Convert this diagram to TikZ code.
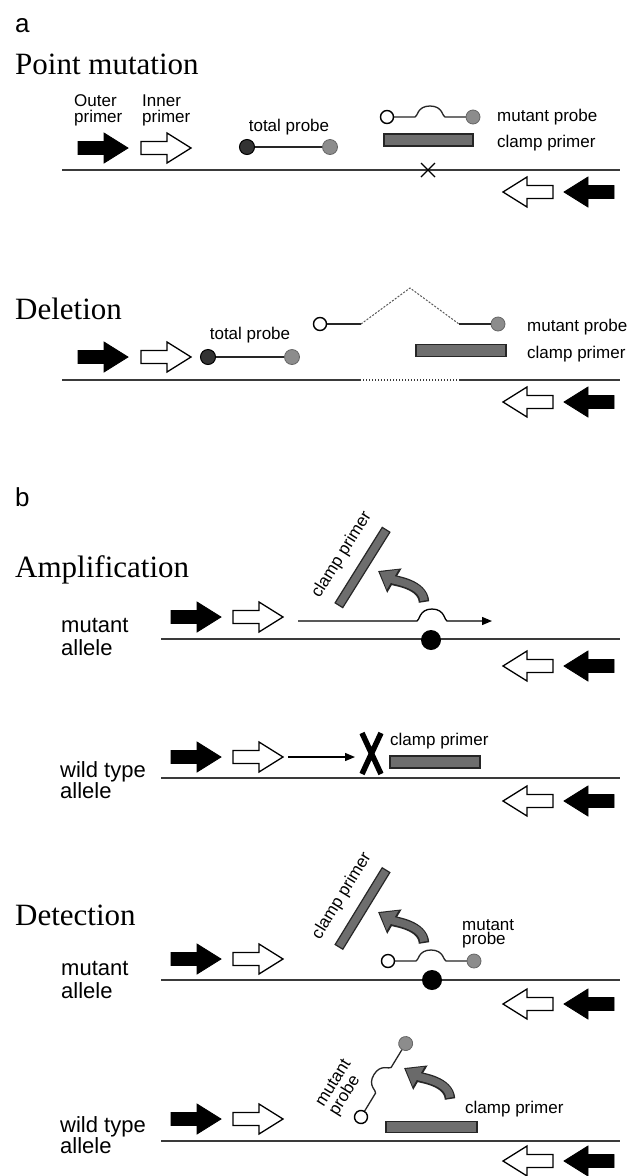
\documentclass[tikz,border=0pt]{standalone}
\usepackage{fontspec}
\setmainfont{Liberation Serif}
\setsansfont{Liberation Sans}
\usetikzlibrary{arrows.meta}

\definecolor{strandgray}{HTML}{3A3A3A}
\definecolor{clampfill}{HTML}{6E6E6E}
\definecolor{dyefill}{HTML}{8C8C8C}
\definecolor{quenchfill}{HTML}{333333}
\definecolor{turnfill}{HTML}{6A6A6A}

\tikzset{
  strand/.style={draw=strandgray, line width=2pt},
  gapstrand/.style={draw=strandgray, line width=1.6pt, dash pattern=on 1.3pt off 1.7pt},
  title/.style={font=\fontsize{31}{31}\selectfont, anchor=base west, inner sep=0},
  panel/.style={font=\sffamily\fontsize{26}{26}\selectfont, anchor=base west, inner sep=0},
  lbl/.style={font=\sffamily\fontsize{17}{16}\selectfont, inner sep=0},
  allele/.style={font=\sffamily\fontsize{22}{22}\selectfont, inner sep=0, anchor=base west},
  clamp/.style={draw=black!85, fill=clampfill, line width=1.2pt, inner sep=0},
  quencher/.style={circle, draw=black, fill=quenchfill, minimum size=15pt, inner sep=0, line width=1pt},
  dye/.style={circle, draw=black!60, fill=dyefill, minimum size=15pt, inner sep=0, line width=0.8pt},
  openend/.style={circle, draw=black, fill=white, minimum size=13pt, inner sep=0, line width=1.4pt},
  mutdot/.style={circle, fill=black, minimum size=20pt, inner sep=0},
  probeline/.style={draw=black!85, line width=1.3pt},
  loopline/.style={draw=black!65, line width=1pt, dash pattern=on 2pt off 1.5pt},
  extarrow/.style={draw=black, line width=1.3pt, -{Triangle[length=10pt,width=8pt]}},
  pointmark/.style={draw=black, line width=1.3pt},
  blockmark/.style={draw=black, line width=5.5pt},
  outerprimer/.style={fill=black, draw=black, line width=0.8pt, line join=miter},
  innerprimer/.style={fill=white, draw=black, line width=1.3pt, line join=miter},
  blockarrow/.pic={
    \path[pic actions] (0,-6.5) -- (26,-6.5) -- (26,-15) -- (50,0) -- (26,15)
      -- (26,6.5) -- (0,6.5) -- cycle;
  },
  mprobe/.pic={
    \draw[probeline] (6.5,0) -- (28,0) .. controls (30.5,0) and (30,-11) .. (43,-11)
      .. controls (56,-11) and (55.5,0) .. (58,0) -- (79.5,0);
    \draw[draw=black, fill=white, line width=1.4pt] (0,0) circle (6.5pt);
    \draw[draw=black!60, fill=dyefill, line width=0.8pt] (86,0) circle (7pt);
  },
  turnarrow/.pic={
    \draw[line width=10.5pt, draw=black!85, -{Triangle[length=19pt,width=27pt,fill=black!85]}]
      (0,0) .. controls (-1,-18) and (-29,-21) .. (-46,-31);
    \draw[line width=7.5pt, draw=turnfill, shorten >=2pt, -{Triangle[length=15pt,width=22pt,fill=turnfill]}]
      (-0.1,-1.5) .. controls (-1,-18) and (-29,-21) .. (-46,-31);
  }
}

\begin{document}
\begin{tikzpicture}[x=1pt, y=-1pt]
\useasboundingbox (0,0) rectangle (640,1176);
\fill[white] (0,0) rectangle (640,1176);

% ---------------- panel a: point mutation ----------------
\node[panel] (pa) at (15,32) {a};
\node[title] (tPoint) at (15,74) {Point mutation};
\node[lbl, anchor=base west] (outerA) at (74,106) {Outer};
\node[lbl, anchor=base west] (outerB) at (74,122) {primer};
\node[lbl, anchor=base west] (innerA) at (142,106) {Inner};
\node[lbl, anchor=base west] (innerB) at (142,122) {primer};
\pic[outerprimer] at (78,148) {blockarrow};
\pic[innerprimer] at (141,148) {blockarrow};
\node[quencher] (tq1) at (247,147) {};
\node[dye] (td1) at (330,147) {};
\draw[probeline] (tq1) -- (td1);
\node[lbl, anchor=base] (tl1) at (289,131) {total probe};
\pic at (387,117) {mprobe};
\node[clamp, minimum width=89pt, minimum height=12pt] (cl1) at (428.5,140) {};
\node[lbl, anchor=base west] (mpl1) at (497,121) {mutant probe};
\node[lbl, anchor=base west] (cpl1) at (497,147) {clamp primer};
\coordinate (s1a) at (62,170);
\coordinate (s1b) at (620,170);
\draw[strand] (s1a) -- (s1b);
\draw[pointmark] (421,163) -- (435,177) (435,163) -- (421,177);
\pic[innerprimer, xscale=-1] at (553,192) {blockarrow};
\pic[outerprimer, xscale=-1] at (614,192) {blockarrow};

% ---------------- panel a: deletion ----------------
\node[title] (tDel) at (15,319) {Deletion};
\pic[outerprimer] at (78,357) {blockarrow};
\pic[innerprimer] at (141,357) {blockarrow};
\node[quencher] (tq2) at (208,357) {};
\node[dye] (td2) at (292,357) {};
\draw[probeline] (tq2) -- (td2);
\node[lbl, anchor=base] (tl2) at (250,339) {total probe};
\node[openend] (mq2) at (320,324) {};
\node[dye, minimum size=14pt] (md2) at (498,324) {};
\coordinate (lp1) at (361,324);
\coordinate (lpk) at (410,288);
\coordinate (lp2) at (459,324);
\draw[probeline] (mq2) -- (lp1);
\draw[loopline] (lp1) -- (lpk) -- (lp2);
\draw[probeline] (lp2) -- (md2);
\node[clamp, minimum width=90pt, minimum height=12pt] (cl2) at (461,350.5) {};
\node[lbl, anchor=base west] (mpl2) at (527,331) {mutant probe};
\node[lbl, anchor=base west] (cpl2) at (527,358) {clamp primer};
\coordinate (s2a) at (62,380);
\coordinate (s2b) at (361,380);
\coordinate (s2c) at (459,380);
\coordinate (s2d) at (620,380);
\draw[strand] (s2a) -- (s2b);
\draw[gapstrand] ([xshift=2pt]s2b) -- ([xshift=-2pt]s2c);
\draw[strand] (s2c) -- (s2d);
\pic[innerprimer, xscale=-1] at (553,402) {blockarrow};
\pic[outerprimer, xscale=-1] at (614,402) {blockarrow};

% ---------------- panel b: amplification, mutant allele ----------------
\node[panel] (pb) at (15,506) {b};
\node[title] (tAmp) at (15,577) {Amplification};
\node[allele] (amA) at (61,632) {mutant};
\node[allele] (amB) at (61,655) {allele};
\pic[outerprimer] at (171,617) {blockarrow};
\pic[innerprimer] at (233,617) {blockarrow};
\coordinate (ext1a) at (298,621);
\coordinate (ext1b) at (492,621);
\draw[extarrow] (ext1a) -- (417,621) .. controls (419.5,621) and (419,609) .. (432,609)
  .. controls (445,609) and (444.5,621) .. (447,621) -- (ext1b);
\coordinate (s3a) at (161,639);
\coordinate (s3b) at (620,639);
\draw[strand] (s3a) -- (s3b);
\node[mutdot] (md3) at (431,640) {};
\node[clamp, minimum width=89pt, minimum height=9pt, rotate=58] (cl3) at (362.5,567.5) {};
\node[lbl, rotate=58] (cpl3) at (342,555) {clamp primer};
\pic at (424,602) {turnarrow};
\pic[innerprimer, xscale=-1] at (553,666) {blockarrow};
\pic[outerprimer, xscale=-1] at (614,666) {blockarrow};

% ---------------- panel b: amplification, wild type allele ----------------
\node[allele] (awA) at (60,777) {wild type};
\node[allele] (awB) at (60,798) {allele};
\pic[outerprimer] at (171,757) {blockarrow};
\pic[innerprimer] at (233,757) {blockarrow};
\coordinate (ext2a) at (288,757);
\coordinate (ext2b) at (355,757);
\draw[extarrow] (ext2a) -- (ext2b);
\draw[blockmark] (362,733) -- (381,774) (381,733) -- (362,774);
\node[lbl, anchor=base west] (cpl4) at (390,745) {clamp primer};
\node[clamp, minimum width=90pt, minimum height=12pt] (cl4) at (435,762) {};
\coordinate (s4a) at (161,778);
\coordinate (s4b) at (620,778);
\draw[strand] (s4a) -- (s4b);
\pic[innerprimer, xscale=-1] at (553,801) {blockarrow};
\pic[outerprimer, xscale=-1] at (614,801) {blockarrow};

% ---------------- panel b: detection, mutant allele ----------------
\node[title] (tDet) at (15,925) {Detection};
\node[clamp, minimum width=90pt, minimum height=9pt, rotate=58.5] (cl5) at (362.5,908.5) {};
\node[lbl, rotate=58.5] (cpl5) at (342,896) {clamp primer};
\pic at (424,943) {turnarrow};
\node[lbl, anchor=base west] (mpl5a) at (462,930) {mutant};
\node[lbl, anchor=base west] (mpl5b) at (462,944) {probe};
\pic at (388,961) {mprobe};
\coordinate (s5a) at (161,980);
\coordinate (s5b) at (620,980);
\draw[strand] (s5a) -- (s5b);
\node[mutdot] (md5) at (432,980) {};
\node[allele] (dmA) at (61,975) {mutant};
\node[allele] (dmB) at (61,998) {allele};
\pic[outerprimer] at (171,959) {blockarrow};
\pic[innerprimer] at (233,959) {blockarrow};
\pic[innerprimer, xscale=-1] at (553,1004) {blockarrow};
\pic[outerprimer, xscale=-1] at (614,1004) {blockarrow};

% ---------------- panel b: detection, wild type allele ----------------
\pic[rotate=58.7] at (361,1117) {mprobe};
\node[lbl, rotate=58, align=left] (mpl6) at (341,1088) {mutant\\probe};
\pic at (450,1099) {turnarrow};
\node[lbl, anchor=base west] (cpl6) at (465,1113) {clamp primer};
\node[clamp, minimum width=91pt, minimum height=11pt] (cl6) at (431.5,1127) {};
\node[allele] (dwA) at (60,1132) {wild type};
\node[allele] (dwB) at (60,1153) {allele};
\pic[outerprimer] at (171,1119) {blockarrow};
\pic[innerprimer] at (233,1119) {blockarrow};
\coordinate (s6a) at (161,1141);
\coordinate (s6b) at (620,1141);
\draw[strand] (s6a) -- (s6b);
\pic[innerprimer, xscale=-1] at (553,1161) {blockarrow};
\pic[outerprimer, xscale=-1] at (614,1161) {blockarrow};
\end{tikzpicture}
\end{document}
